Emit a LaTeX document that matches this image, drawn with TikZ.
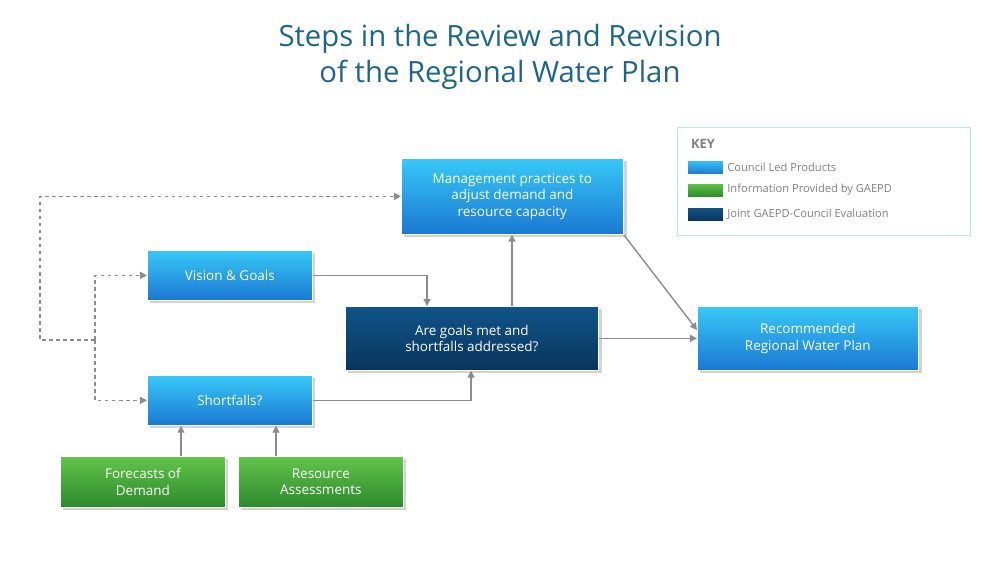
\documentclass[tikz,border=0pt]{standalone}
\usepackage{fontspec}
\setmainfont{Open Sans}
\usetikzlibrary{shadows,arrows.meta}
\definecolor{titleblue}{HTML}{1F6685}
\definecolor{lightA}{HTML}{38C8F7}
\definecolor{lightB}{HTML}{1A78D2}
\definecolor{darkA}{HTML}{0A355C}
\definecolor{darkB}{HTML}{10548A}
\definecolor{greenA}{HTML}{62C44A}
\definecolor{greenB}{HTML}{2C8A2C}
\definecolor{keyline}{HTML}{BFE3F2}

\begin{document}
\begin{tikzpicture}[
    x=0.03cm,y=-0.03cm,
    box/.style={draw=white, line width=0.6pt, drop shadow={opacity=0.35},
      text=white, align=center, font=\fontsize{11.5}{14}\selectfont,
      minimum width=#1, inner sep=0pt, anchor=north west},
    council/.style={box=#1, top color=lightA, bottom color=lightB},
    joint/.style={box=#1, top color=darkB, bottom color=darkA},
    gaepd/.style={box=#1, top color=greenA, bottom color=greenB},
    link/.style={draw=gray!90, line width=1.2pt, -{Triangle[length=6pt,width=6pt]}},
    dashlink/.style={link, dashed},
    swatch/.style={draw=white, minimum width=1.08cm, minimum height=0.42cm, inner sep=0pt}
    ]
    \useasboundingbox (0,0) rectangle (1000,563);
    % title
    \node[text=titleblue, align=center, font=\fontsize{25}{31}\selectfont] (title) at (500,57)
      {Steps in the Review and Revision\\of the Regional Water Plan};
    % boxes
    \node[council=6.66cm, minimum height=2.28cm] (mgmt) at (401,158)
      {Management practices to\\adjust demand and\\resource capacity};
    \node[council=4.95cm, minimum height=1.5cm] (vision) at (147,250) {Vision \& Goals};
    \node[joint=7.59cm, minimum height=1.92cm] (goals) at (345,306)
      {Are goals met and\\shortfalls addressed?};
    \node[council=6.63cm, minimum height=1.92cm] (plan) at (697,306)
      {Recommended\\Regional Water Plan};
    \node[council=4.95cm, minimum height=1.5cm] (short) at (147,375) {Shortfalls?};
    \node[gaepd=4.95cm, minimum height=1.53cm] (fore) at (60,456) {Forecasts of\\Demand};
    \node[gaepd=4.95cm, minimum height=1.53cm] (res) at (238,456) {Resource\\Assessments};
    % key
    \node[draw=keyline, line width=1.2pt, fill=white, minimum width=8.79cm, minimum height=3.24cm,
      anchor=north west, inner sep=0pt] (key) at (677,127) {};
    \node[anchor=west, text=gray, font=\bfseries\fontsize{11}{13}\selectfont] (keyt) at (687,144) {KEY};
    \node[swatch, top color=lightA, bottom color=lightB] (k1) at (705,167) {};
    \node[swatch, top color=greenA, bottom color=greenB] (k2) at (705,190) {};
    \node[swatch, top color=darkB, bottom color=darkA] (k3) at (705,214) {};
    \node[anchor=west, text=gray, font=\fontsize{9.5}{11}\selectfont] at (k1.east) {Council Led Products};
    \node[anchor=west, text=gray, font=\fontsize{9.5}{11}\selectfont] at (k2.east) {Information Provided by GAEPD};
    \node[anchor=west, text=gray, font=\fontsize{9.5}{11}\selectfont] at (k3.east) {Joint GAEPD-Council Evaluation};
    % connectors
    \coordinate (split) at (95,340);
    \coordinate (far) at (40,340);
    \draw[link] (vision.east) -| (goals.north -| 427,0);
    \draw[link] (short.east) -| (goals.south -| 471,0);
    \draw[link] (goals.north -| 512,0) -- (mgmt.south -| 512,0);
    \draw[link] (goals.east) -- (plan.west);
    \draw[link] (mgmt.south east) -- (plan.west |- 0,330);
    \draw[link] (fore.north -| 181,0) -- (short.south -| 181,0);
    \draw[link] (res.north -| 276,0) -- (short.south -| 276,0);
    \draw[dashlink] (split) |- (vision.west);
    \draw[dashlink] (split) |- (short.west);
    \draw[dashlink] (split) -- (far) |- (mgmt.west);
\end{tikzpicture}
\end{document}
